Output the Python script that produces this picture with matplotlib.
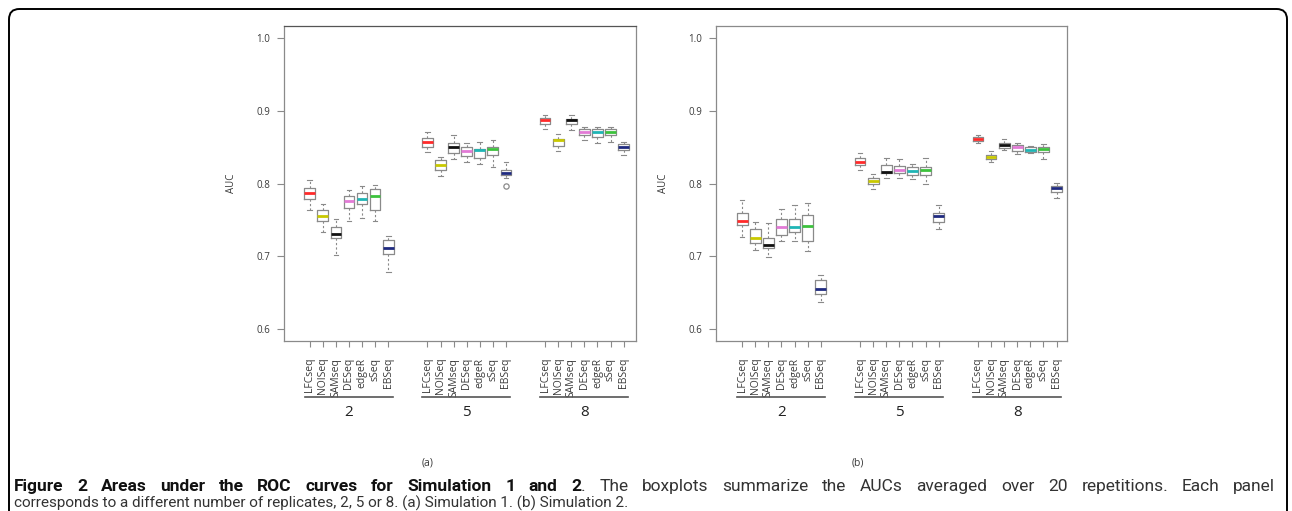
import matplotlib
matplotlib.use("Agg")
import matplotlib.pyplot as plt
from matplotlib.patches import FancyBboxPatch
from matplotlib.lines import Line2D
import matplotlib.transforms as mtransforms

methods = ["LFCseq", "NOISeq", "SAMseq", "DESeq", "edgeR", "sSeq", "EBSeq"]
groups = ["2", "5", "8"]
median_colors = ["#ff2a2a", "#c9c900", "#111111", "#e27ad6", "#1fb5b5", "#3cc23c", "#1f2a80"]

# Simulation 1: per group, per method -> whislo, q1, med, q3, whishi
sim1_whislo = [[0.763, 0.734, 0.702, 0.748, 0.753, 0.748, 0.679],
               [0.843, 0.810, 0.834, 0.829, 0.827, 0.823, 0.808],
               [0.875, 0.845, 0.874, 0.860, 0.855, 0.857, 0.839]]
sim1_q1 = [[0.779, 0.749, 0.725, 0.766, 0.772, 0.763, 0.703],
           [0.850, 0.819, 0.842, 0.838, 0.835, 0.839, 0.8115],
           [0.881, 0.852, 0.881, 0.866, 0.864, 0.867, 0.846]]
sim1_med = [[0.787, 0.756, 0.731, 0.776, 0.779, 0.783, 0.711],
            [0.857, 0.826, 0.8495, 0.844, 0.846, 0.847, 0.815],
            [0.887, 0.859, 0.887, 0.8705, 0.870, 0.870, 0.8505]]
sim1_q3 = [[0.794, 0.763, 0.740, 0.783, 0.787, 0.793, 0.723],
           [0.8625, 0.832, 0.855, 0.850, 0.848, 0.8505, 0.819],
           [0.890, 0.8615, 0.889, 0.875, 0.875, 0.875, 0.854]]
sim1_whishi = [[0.805, 0.772, 0.752, 0.791, 0.796, 0.798, 0.728],
               [0.870, 0.837, 0.866, 0.855, 0.857, 0.859, 0.830],
               [0.894, 0.868, 0.894, 0.878, 0.878, 0.878, 0.857]]
sim1_outliers = [[[], [], [], [], [], [], []],
                 [[], [], [], [], [], [], [0.797]],
                 [[], [], [], [], [], [], []]]

# Simulation 2
sim2_whislo = [[0.727, 0.709, 0.699, 0.721, 0.721, 0.707, 0.638],
               [0.819, 0.793, 0.808, 0.808, 0.806, 0.800, 0.738],
               [0.8555, 0.829, 0.846, 0.841, 0.842, 0.834, 0.780]]
sim2_q1 = [[0.743, 0.718, 0.711, 0.730, 0.734, 0.721, 0.649],
           [0.825, 0.7995, 0.814, 0.8147, 0.812, 0.8115, 0.747],
           [0.858, 0.834, 0.849, 0.845, 0.8436, 0.843, 0.7885]]
sim2_med = [[0.748, 0.725, 0.715, 0.740, 0.741, 0.742, 0.6555],
            [0.830, 0.803, 0.8156, 0.818, 0.8165, 0.819, 0.7555],
            [0.8615, 0.837, 0.8523, 0.850, 0.8454, 0.8477, 0.7936]]
sim2_q3 = [[0.759, 0.738, 0.725, 0.751, 0.751, 0.757, 0.668],
           [0.835, 0.807, 0.825, 0.824, 0.823, 0.823, 0.760],
           [0.864, 0.839, 0.856, 0.853, 0.8505, 0.8505, 0.796]]
sim2_whishi = [[0.777, 0.747, 0.746, 0.765, 0.770, 0.773, 0.675],
               [0.842, 0.813, 0.835, 0.834, 0.827, 0.835, 0.770],
               [0.867, 0.844, 0.861, 0.8555, 0.852, 0.854, 0.801]]
sim2_outliers = [[[] for _ in methods] for _ in groups]

caption_bold = "Figure 2 Areas under the ROC curves for Simulation 1 and 2"
caption_rest = ". The boxplots summarize the AUCs averaged over 20 repetitions. Each panel"
caption_line2 = ("corresponds to a different number of replicates, 2, 5 or 8. "
                 "(a) Simulation 1. (b) Simulation 2.")

BOX_GRAY = "#8a8a8a"
TXT = "#3a3a3a"

W, H = 1292, 511
fig = plt.figure(figsize=(W / 100, H / 100), dpi=100)
plt.rcParams['font.family'] = ['Open Sans', 'DejaVu Sans']


def px_axes(x0, x1, y0, y1):
    return fig.add_axes([x0 / W, 1 - y1 / H, (x1 - x0) / W, (y1 - y0) / H])


def draw_panel(ax, whislo, q1, med, q3, whishi, outl, xlim, top_color):
    stats = []
    positions = []
    colors = []
    for g in range(len(groups)):
        for m in range(len(methods)):
            stats.append(dict(whislo=whislo[g][m], q1=q1[g][m], med=med[g][m],
                              q3=q3[g][m], whishi=whishi[g][m],
                              fliers=outl[g][m], label=methods[m]))
            positions.append(1 + 9 * g + m)
            colors.append(median_colors[m])
    bp = ax.bxp(stats, positions=positions, widths=0.82, capwidths=0.35,
                patch_artist=False, manage_ticks=False,
                boxprops=dict(color=BOX_GRAY, linewidth=0.9),
                whiskerprops=dict(color=BOX_GRAY, linewidth=0.8, linestyle=(0, (2.0, 2.0))),
                capprops=dict(color=BOX_GRAY, linewidth=0.8),
                medianprops=dict(linewidth=2.0),
                flierprops=dict(marker='o', markerfacecolor='none', markeredgecolor=BOX_GRAY,
                                markersize=3.8, markeredgewidth=0.9))
    for line, c in zip(bp['medians'], colors):
        line.set_color(c)
        line.set_solid_capstyle('butt')
    ax.set_xlim(*xlim)
    ax.set_ylim(0.584, 1.016)
    ax.set_yticks([0.6, 0.7, 0.8, 0.9, 1.0])
    ax.set_yticklabels(["0.6", "0.7", "0.8", "0.9", "1.0"])
    ax.set_xticks(positions)
    ax.set_xticklabels([s['label'] for s in stats], rotation=90, va='top', ha='center')
    ax.tick_params(axis='y', length=5, width=0.8, color=BOX_GRAY, pad=5,
                   labelsize=7, labelcolor=TXT)
    ax.tick_params(axis='x', length=4.5, width=0.8, color=BOX_GRAY, pad=7.5,
                   labelsize=7.5, labelcolor=TXT)
    for s in ax.spines.values():
        s.set_color(BOX_GRAY)
        s.set_linewidth(0.9)
    ax.spines['top'].set_color(top_color)
    ax.set_ylabel("AUC", fontsize=7, color=TXT, labelpad=14)
    trans = mtransforms.blended_transform_factory(ax.transData, ax.transAxes)
    for g, name in enumerate(groups):
        x0 = 1 + 9 * g - 0.4
        x1 = 1 + 9 * g + 6 + 0.35
        ax.add_line(Line2D([x0, x1], [-0.178, -0.178], transform=trans, color="#555555",
                           linewidth=1.2, clip_on=False))
        ax.text(1 + 9 * g + 3, -0.226, name, transform=trans, ha='center', va='center',
                fontsize=11, color="#222222")


axL = px_axes(284, 636, 26, 341)
draw_panel(axL, sim1_whislo, sim1_q1, sim1_med, sim1_q3, sim1_whishi, sim1_outliers,
           (-0.97, 25.95), "#555555")
axR = px_axes(716, 1067, 26, 341)
draw_panel(axR, sim2_whislo, sim2_q1, sim2_med, sim2_q3, sim2_whishi, sim2_outliers,
           (-1.0, 25.8), BOX_GRAY)

# panel letters
fig.text(428 / W, 1 - 463 / H, "(a)", ha='center', va='center', fontsize=7.5, color=TXT)
fig.text(858 / W, 1 - 463 / H, "(b)", ha='center', va='center', fontsize=7.5, color=TXT)

# page border with rounded corners
border = FancyBboxPatch((9 / W, -0.2), (1287 - 9) / W, 1 - 9 / H + 0.2,
                        boxstyle="round,pad=0,rounding_size=0.008",
                        transform=fig.transFigure, fill=False, edgecolor="black",
                        linewidth=1.4, mutation_aspect=W / H)
fig.patches.append(border)

# caption (line 1 justified word by word, line 2 left aligned)
cap_font = ['Roboto', 'DejaVu Sans']
fs1 = 12.5
fs2 = 11.0
r = fig.canvas.get_renderer()
base1 = 1 - 491 / H

tokens = [(w, True, True) for w in caption_bold.split(" ")]
rest_words = caption_rest.split(" ")
tokens.append((rest_words[0], False, False))  # "." attached to bold "2"
tokens += [(w, False, True) for w in rest_words[1:]]

texts = []
for w, bold, _ in tokens:
    texts.append(fig.text(0, base1, w, fontsize=fs1, fontweight='bold' if bold else 'normal',
                          family=cap_font, color="#111111" if bold else "#333333",
                          va='baseline', ha='left'))
fig.canvas.draw()
widths = [t.get_window_extent(r).width for t in texts]
n_gaps = sum(1 for _, _, sp in tokens[1:] if sp)
x_start, x_end = 14.0, 1275.0
gap = (x_end - x_start - sum(widths)) / n_gaps
x = x_start
for i, (t, (w, bold, sp)) in enumerate(zip(texts, tokens)):
    if i > 0 and sp:
        x += gap
    t.set_x(x / W)
    x += widths[i]

fig.text(14 / W, 1 - 508 / H, caption_line2, fontsize=fs2, family=cap_font,
         color="#333333", va='baseline', ha='left')

fig.savefig("out.png", dpi=100)
